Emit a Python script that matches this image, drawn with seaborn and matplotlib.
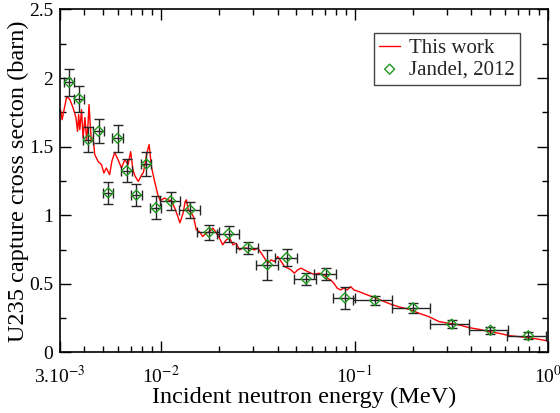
import numpy as np
import pandas as pd
import seaborn as sns
import matplotlib
matplotlib.use("Agg")
import matplotlib.pyplot as plt
from matplotlib.ticker import FixedLocator, NullFormatter, MultipleLocator

# Calculated capture cross section (This work)
calc_energy = [3.02e-3, 3.08e-3, 3.25e-3, 3.38e-3, 3.51e-3, 3.63e-3, 3.70e-3, 3.75e-3,
               3.80e-3, 3.88e-3, 3.95e-3, 4.04e-3, 4.12e-3, 4.19e-3, 4.24e-3, 4.36e-3,
               4.45e-3, 4.54e-3, 4.73e-3, 4.92e-3, 5.06e-3, 5.21e-3, 5.42e-3, 5.56e-3,
               5.75e-3, 5.99e-3, 6.24e-3, 6.49e-3, 6.75e-3, 6.96e-3, 7.15e-3, 7.32e-3,
               7.62e-3, 7.94e-3, 8.09e-3, 8.25e-3, 8.47e-3, 8.67e-3, 8.91e-3, 9.26e-3,
               9.62e-3, 9.90e-3, 1.04e-2, 1.08e-2, 1.13e-2, 1.18e-2, 1.22e-2, 1.25e-2,
               1.30e-2, 1.33e-2, 1.35e-2, 1.38e-2, 1.43e-2, 1.47e-2, 1.52e-2, 1.58e-2,
               1.64e-2, 1.71e-2, 1.78e-2, 1.85e-2, 1.93e-2, 2.00e-2, 2.08e-2, 2.17e-2,
               2.26e-2, 2.35e-2, 2.44e-2, 2.54e-2, 2.64e-2, 2.75e-2, 2.89e-2, 3.04e-2,
               3.16e-2, 3.29e-2, 3.42e-2, 3.56e-2, 3.70e-2, 3.85e-2, 4.00e-2, 4.17e-2,
               4.34e-2, 4.51e-2, 4.69e-2, 4.88e-2, 5.07e-2, 5.28e-2, 5.49e-2, 5.71e-2,
               5.94e-2, 6.18e-2, 6.54e-2, 6.94e-2, 7.22e-2, 7.51e-2, 7.81e-2, 8.12e-2,
               8.46e-2, 8.80e-2, 9.15e-2, 9.53e-2, 9.91e-2, 0.105, 0.116, 0.129,
               0.142, 0.157, 0.170, 0.191, 0.215, 0.242, 0.273, 0.307,
               0.346, 0.390, 0.439, 0.494, 0.557, 0.627, 0.706, 0.795,
               0.895, 0.984]
calc_sigma = [1.770, 1.697, 1.865, 1.843, 1.782, 1.712, 1.612, 1.734,
              1.624, 1.770, 1.566, 1.712, 1.551, 1.661, 1.807, 1.536,
              1.566, 1.442, 1.391, 1.369, 1.308, 1.345, 1.296, 1.391,
              1.458, 1.405, 1.345, 1.405, 1.369, 1.464, 1.332, 1.288,
              1.247, 1.296, 1.310, 1.369, 1.464, 1.515, 1.354, 1.245,
              1.150, 1.106, 1.126, 1.113, 1.106, 1.047, 0.991, 0.945,
              1.018, 1.099, 1.113, 1.040, 1.018, 0.989, 0.894, 0.880,
              0.845, 0.870, 0.882, 0.907, 0.870, 0.834, 0.785, 0.821,
              0.834, 0.785, 0.797, 0.748, 0.761, 0.761, 0.755, 0.748,
              0.761, 0.724, 0.688, 0.651, 0.675, 0.663, 0.699, 0.663,
              0.626, 0.615, 0.602, 0.578, 0.602, 0.615, 0.602, 0.590,
              0.578, 0.570, 0.578, 0.566, 0.542, 0.529, 0.505, 0.469,
              0.456, 0.469, 0.456, 0.480, 0.456, 0.444, 0.420, 0.396,
              0.371, 0.347, 0.332, 0.315, 0.286, 0.261, 0.225, 0.213,
              0.201, 0.181, 0.169, 0.152, 0.140, 0.123, 0.115, 0.108,
              0.096, 0.086]

# Measured data (Jandel, 2012)
exp_energy = [3.35e-3, 3.76e-3, 4.20e-3, 4.75e-3, 5.33e-3, 5.96e-3, 6.64e-3, 7.45e-3,
              8.40e-3, 9.39e-3, 1.12e-2, 1.41e-2, 1.77e-2, 2.23e-2, 2.80e-2, 3.54e-2,
              4.45e-2, 5.60e-2, 7.07e-2, 8.90e-2, 0.127, 0.200, 0.317, 0.503, 0.790]
exp_sigma = [1.969, 1.850, 1.551, 1.612, 1.164, 1.561, 1.325, 1.147,
             1.374, 1.055, 1.104, 1.040, 0.876, 0.865, 0.763, 0.639,
             0.692, 0.537, 0.573, 0.398, 0.379, 0.326, 0.206, 0.162, 0.122]
exp_energy_err = [1.9e-4, 2.2e-4, 2.7e-4, 3.2e-4, 3.2e-4, 3.9e-4, 4.4e-4, 4.9e-4,
                  5.0e-4, 6.3e-4, 1.3e-3, 1.8e-3, 2.3e-3, 2.9e-3, 3.6e-3, 4.6e-3,
                  5.7e-3, 7.3e-3, 9.2e-3, 1.16e-2, 0.029, 0.045, 0.071, 0.113, 0.178]
exp_sigma_err = [0.100, 0.095, 0.093, 0.088, 0.080, 0.100, 0.085, 0.080,
                 0.090, 0.083, 0.063, 0.060, 0.055, 0.056, 0.046, 0.110,
                 0.060, 0.045, 0.043, 0.080, 0.030, 0.036, 0.030, 0.027, 0.024]

x_tick_values = [3e-3, 1e-2, 1e-1, 1.0]
x_tick_labels = [r"3.10$^{-3}$", r"10$^{-2}$", r"10$^{-1}$", r"10$^{0}$"]
y_tick_values = [0, 0.5, 1.0, 1.5, 2.0, 2.5]
y_tick_labels = ["0", "0.5", "1", "1.5", "2", "2.5"]

sns.set_theme(style="ticks")
plt.rcParams["font.family"] = ["Liberation Serif", "DejaVu Serif"]
plt.rcParams["mathtext.fontset"] = "stix"

calc_df = pd.DataFrame({"energy": calc_energy, "sigma": calc_sigma})
exp_df = pd.DataFrame({"energy": exp_energy, "sigma": exp_sigma,
                       "dE": exp_energy_err, "dS": exp_sigma_err})

fig = plt.figure(figsize=(5.6, 4.13), dpi=100)
ax = fig.add_axes([0.107, 0.1465, 0.872, 0.8305])
ax.set_xscale("log")

sns.lineplot(data=calc_df, x="energy", y="sigma", ax=ax, color="#ff0000",
             linewidth=1.0, sort=False, label="This work", zorder=2)

ax.errorbar(exp_df["energy"], exp_df["sigma"], xerr=exp_df["dE"], yerr=exp_df["dS"],
            fmt="none", ecolor="#262626", elinewidth=1.0, capsize=3.8,
            capthick=1.0, zorder=3)
sns.scatterplot(data=exp_df, x="energy", y="sigma", ax=ax, marker="D", s=26,
                facecolor="none", edgecolor="#1f9a1f", linewidth=1.0,
                label="Jandel, 2012", zorder=4)

ax.set_xlim(3e-3, 1.0)
ax.set_ylim(0, 2.5)

ax.xaxis.set_major_locator(FixedLocator(x_tick_values))
ax.set_xticklabels(x_tick_labels)
minor_x = [m * 10.0 ** e for e in (-3, -2, -1) for m in range(2, 10)
           if 3e-3 < m * 10.0 ** e < 1.0]
ax.xaxis.set_minor_locator(FixedLocator(minor_x))
ax.xaxis.set_minor_formatter(NullFormatter())
ax.set_yticks(y_tick_values)
ax.set_yticklabels(y_tick_labels)
ax.yaxis.set_minor_locator(MultipleLocator(0.25))

ax.tick_params(axis="both", which="major", direction="in", length=8, width=1,
               top=True, right=True, labelsize=14, color="black", labelcolor="black")
ax.tick_params(axis="both", which="minor", direction="in", length=4, width=1,
               top=True, right=True, color="black")
ax.tick_params(axis="x", which="major", pad=9)
ax.tick_params(axis="y", which="major", pad=5)
for side in ax.spines.values():
    side.set_visible(True)
    side.set_color("black")
    side.set_linewidth(1.2)

ax.set_xlabel("Incident neutron energy (MeV)", fontsize=17.5, color="black", labelpad=0)
ax.set_ylabel("U235 capture cross secton (barn)", fontsize=17.5, color="black", labelpad=0)

leg = ax.legend(loc="upper right", bbox_to_anchor=(0.943, 0.931), borderaxespad=0,
                fontsize=15, frameon=True, fancybox=False, framealpha=1,
                edgecolor="#444444", handlelength=1.0, handletextpad=0.45,
                borderpad=0.25, labelspacing=0.1)
leg.get_frame().set_linewidth(1.0)

fig.savefig("out.png", dpi=100)
